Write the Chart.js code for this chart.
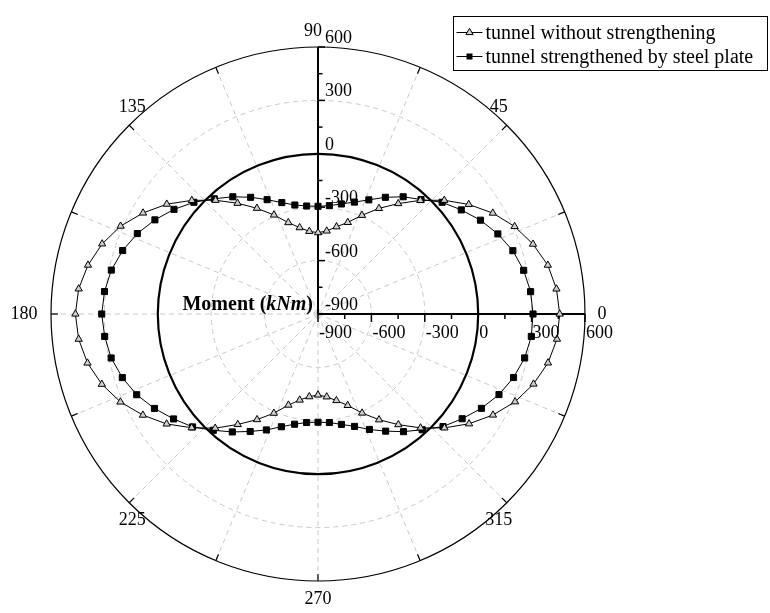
<!DOCTYPE html>
<html>
<head>
<meta charset="utf-8">
<script src="https://cdn.jsdelivr.net/npm/chart.js@4.4.0/dist/chart.umd.min.js"></script>
<style>
  html, body { margin: 0; padding: 0; background: #ffffff; }
  #wrap { width: 770px; height: 613px; }
</style>
</head>
<body>
<div id="wrap"><canvas id="chart" width="770" height="613"></canvas></div>
<script>
// Polar angle of each sample (degrees, counter-clockwise from the right)
const angles = [0, 6, 12, 18, 24, 30, 36, 42, 48, 54, 60, 66, 72, 78, 84,
  90, 96, 102, 108, 114, 120, 126, 132, 138, 144, 150, 156, 162, 168, 174,
  180, 186, 192, 198, 204, 210, 216, 222, 228, 234, 240, 246, 252, 258, 264,
  270, 276, 282, 288, 294, 300, 306, 312, 318, 324, 330, 336, 342, 348, 354];

// Bending moment (kNm) of the lining without strengthening
const momentPlain = [458, 447, 420, 370, 309, 234, 147, 55, -41, -133, -215, -293, -359, -399, -431,
  -443, -433, -404, -360, -291, -214, -131, -40, 54, 150, 235, 314, 375, 421, 452,
  463, 452, 424, 377, 315, 236, 151, 55, -37, -133, -215, -290, -362, -406, -433,
  -445, -432, -403, -360, -291, -214, -132, -39, 56, 149, 235, 312, 373, 421, 450];

// Bending moment (kNm) of the lining strengthened by steel plate
const momentSteel = [308, 301, 281, 251, 206, 154, 95, 38, -35, -86, -143, -198, -239, -268, -288,
  -295, -290, -274, -242, -197, -143, -86, -29, 38, 100, 158, 211, 254, 287, 306,
  315, 305, 288, 256, 215, 161, 103, 48, -21, -81, -138, -187, -234, -267, -287,
  -292, -287, -266, -236, -190, -140, -83, -25, 45, 101, 160, 213, 255, 287, 305];

const seriesNames = ['tunnel without strengthening', 'tunnel strengthened by steel plate'];
const radialMajorTicks = [-900, -600, -300, 0, 300, 600];
const radialMinorTicks = [-750, -450, -150, 150, 450];
const angleTickLabels = [0, 45, 90, 135, 180, 225, 270, 315];
const radialMin = -900;
const radialMax = 600;

// The radar scale runs clockwise from its start angle, so walk the samples backwards
const order = angles.map((_, i) => (angles.length - i) % angles.length);
const chartLabels = order.map(k => angles[k]);
const plainData = order.map(k => momentPlain[k]);
const steelData = order.map(k => momentSteel[k]);

const SERIF = '"Liberation Serif", "Times New Roman", serif';
const GRID = '#c8c8c8';
const TRI_FILL = '#cfcfcf';

function drawTriangle(ctx, x, y, r) {
  ctx.beginPath();
  for (let i = 0; i < 3; i++) {
    const a = -Math.PI / 2 + i * 2 * Math.PI / 3;
    const px = x + r * Math.cos(a), py = y + r * Math.sin(a);
    if (i === 0) ctx.moveTo(px, py); else ctx.lineTo(px, py);
  }
  ctx.closePath();
  ctx.fillStyle = TRI_FILL; ctx.fill();
  ctx.lineWidth = 1; ctx.strokeStyle = '#000'; ctx.stroke();
}

const polarFrame = {
  id: 'polarFrame',
  beforeDatasetsDraw(chart) {
    const s = chart.scales.r;
    const ctx = chart.ctx;
    const cx = s.xCenter, cy = s.yCenter;
    const R = s.getDistanceFromCenterForValue(radialMax);
    const pt = (deg, d) => [cx + d * Math.cos(deg * Math.PI / 180), cy - d * Math.sin(deg * Math.PI / 180)];
    ctx.save();

    // dashed spokes every 22.5 degrees
    ctx.strokeStyle = GRID; ctx.lineWidth = 1; ctx.setLineDash([5, 4]);
    for (let k = 0; k < 16; k++) {
      const a = k * 22.5;
      if (a === 0 || a === 90) continue;
      const [x, y] = pt(a, R);
      ctx.beginPath(); ctx.moveTo(cx, cy); ctx.lineTo(x, y); ctx.stroke();
    }
    ctx.setLineDash([]);

    // zero-moment circle
    ctx.strokeStyle = '#000';
    ctx.lineWidth = 2.2;
    ctx.beginPath(); ctx.arc(cx, cy, s.getDistanceFromCenterForValue(0), 0, Math.PI * 2); ctx.stroke();

    // outer circle with inward angular ticks
    ctx.lineWidth = 1.2;
    ctx.beginPath(); ctx.arc(cx, cy, R, 0, Math.PI * 2); ctx.stroke();
    for (let k = 0; k < 16; k++) {
      const a = k * 22.5;
      const [x1, y1] = pt(a, R), [x2, y2] = pt(a, R - 7);
      ctx.beginPath(); ctx.moveTo(x1, y1); ctx.lineTo(x2, y2); ctx.stroke();
    }

    // radial axes: horizontal (0 deg) and vertical (90 deg)
    ctx.lineWidth = 2;
    ctx.beginPath(); ctx.moveTo(cx, cy); ctx.lineTo(cx + R, cy); ctx.stroke();
    ctx.beginPath(); ctx.moveTo(cx, cy); ctx.lineTo(cx, cy - R); ctx.stroke();

    ctx.lineWidth = 1.5;
    radialMajorTicks.forEach(v => {
      const d = s.getDistanceFromCenterForValue(v);
      ctx.beginPath(); ctx.moveTo(cx + d, cy); ctx.lineTo(cx + d, cy + 8); ctx.stroke();
      ctx.beginPath(); ctx.moveTo(cx, cy - d); ctx.lineTo(cx + 7, cy - d); ctx.stroke();
    });
    radialMinorTicks.forEach(v => {
      const d = s.getDistanceFromCenterForValue(v);
      ctx.beginPath(); ctx.moveTo(cx + d, cy); ctx.lineTo(cx + d, cy + 5); ctx.stroke();
      ctx.beginPath(); ctx.moveTo(cx, cy - d); ctx.lineTo(cx + 4.5, cy - d); ctx.stroke();
    });
    ctx.restore();
  },
  afterDatasetsDraw(chart) {
    const s = chart.scales.r;
    const ctx = chart.ctx;
    const cx = s.xCenter, cy = s.yCenter;
    const R = s.getDistanceFromCenterForValue(radialMax);
    const pt = (deg, d) => [cx + d * Math.cos(deg * Math.PI / 180), cy - d * Math.sin(deg * Math.PI / 180)];
    ctx.save();
    ctx.fillStyle = '#000';

    // radial tick labels
    ctx.font = '18px ' + SERIF;
    ctx.textAlign = 'left';
    ctx.textBaseline = 'alphabetic';
    radialMajorTicks.forEach(v => {
      const d = s.getDistanceFromCenterForValue(v);
      ctx.fillText(String(v), cx + d + 1, cy + 24);
      ctx.fillText(String(v), cx + 7, cy - d - 4);
    });

    // angular labels just outside the rim
    const nudges = {
      0: [17, 0], 45: [-8, -18], 90: [-5, -16], 135: [3, -18],
      180: [-27, 0], 225: [3, 17], 270: [0, 18], 315: [-8, 17]
    };
    ctx.textAlign = 'center';
    ctx.textBaseline = 'middle';
    angleTickLabels.forEach(a => {
      const [x, y] = pt(a, R);
      const [dx, dy] = nudges[a];
      ctx.fillText(String(a), x + dx, y + dy);
    });

    // axis title: Moment (kNm)
    ctx.textBaseline = 'alphabetic';
    ctx.textAlign = 'left';
    const parts = [
      ['bold 20px ' + SERIF, 'Moment ('],
      ['italic bold 20px ' + SERIF, 'kNm'],
      ['bold 20px ' + SERIF, ')']
    ];
    let total = 0;
    parts.forEach(([f, t]) => { ctx.font = f; total += ctx.measureText(t).width; });
    let x = cx - 5 - total;
    parts.forEach(([f, t]) => { ctx.font = f; ctx.fillText(t, x, cy - 4); x += ctx.measureText(t).width; });

    // legend
    const lx = 453.5, ly = 16.5, lw = 314, lh = 54;
    ctx.lineWidth = 1; ctx.strokeStyle = '#000';
    ctx.strokeRect(lx, ly, lw, lh);
    ctx.font = '20px ' + SERIF;
    const rows = [ly + 22, ly + 46];
    rows.forEach((base, i) => {
      const my = base - 6;
      ctx.lineWidth = 1;
      ctx.beginPath(); ctx.moveTo(lx + 3, my); ctx.lineTo(lx + 29, my); ctx.stroke();
      if (i === 0) drawTriangle(ctx, lx + 16, my, 4.2);
      else { ctx.fillStyle = '#000'; ctx.fillRect(lx + 13, my - 3, 6, 6); }
      ctx.fillStyle = '#000';
      ctx.fillText(seriesNames[i], lx + 32, base);
    });
    ctx.restore();
  }
};

new Chart(document.getElementById('chart'), {
  type: 'radar',
  data: {
    labels: chartLabels,
    datasets: [
      {
        label: seriesNames[0],
        data: plainData,
        borderColor: '#000',
        borderWidth: 1,
        fill: false,
        tension: 0,
        pointStyle: 'triangle',
        pointRadius: 4.2,
        pointBackgroundColor: TRI_FILL,
        pointBorderColor: '#000',
        pointBorderWidth: 1
      },
      {
        label: seriesNames[1],
        data: steelData,
        borderColor: '#000',
        borderWidth: 1,
        fill: false,
        tension: 0,
        pointStyle: 'rect',
        pointRadius: 4.3,
        pointBackgroundColor: '#000',
        pointBorderColor: '#000',
        pointBorderWidth: 1
      }
    ]
  },
  options: {
    responsive: false,
    animation: false,
    devicePixelRatio: 1,
    layout: { padding: { left: 51, top: 47, right: 185, bottom: 32 } },
    plugins: { legend: { display: false }, tooltip: { enabled: false } },
    scales: {
      r: {
        min: radialMin,
        max: radialMax,
        startAngle: 90,
        ticks: { display: false, stepSize: 300 },
        pointLabels: { display: false },
        angleLines: { display: false },
        grid: {
          circular: true,
          lineWidth: 1,
          color: (c) => (c.tick && (c.tick.value === 0 || c.tick.value === radialMax)) ? 'rgba(0,0,0,0)' : GRID
        },
        border: { dash: [5, 4] }
      }
    }
  },
  plugins: [polarFrame]
});
</script>
</body>
</html>
